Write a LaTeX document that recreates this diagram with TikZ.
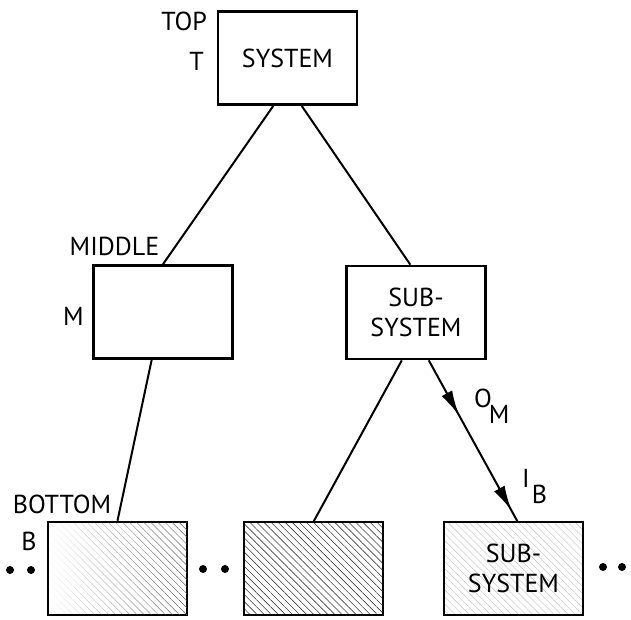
\documentclass[tikz,border=0pt]{standalone}
\usepackage{fontspec}
\setmainfont{PT Sans}
\usetikzlibrary{arrows.meta,calc,decorations.markings,patterns.meta,fadings}
\tikzfading[name=hatchfade,left color=transparent!100,right color=transparent!10]

\begin{document}
\begin{tikzpicture}[x=1pt,y=-1pt,>={Latex[length=25pt,width=12pt]},
  font=\fontsize{26}{30}\selectfont,
  box/.style={draw,line width=2.6pt,minimum width=139pt,minimum height=93pt,inner sep=0pt,align=center},
  conn/.style={line width=2pt},
  lbl/.style={inner sep=0pt},
  flow/.style={postaction={decorate},decoration={markings,
      mark=at position .34 with {\arrow{>}},mark=at position .93 with {\arrow{>}}}}]
  \useasboundingbox (0,0) rectangle (631,619);
  % Kaesten
  \node[box] (sys) at (287.5,58) {SYSTEM};
  \node[box] (mid) at (163,312) {};
  \node[box] (sub) at (416,312.5) {SUB-\\SYSTEM};
  \node[box] (bl) at (117.5,568.5) {};
  \node[box,pattern={Lines[angle=-45,distance=5pt,line width=.6pt]},pattern color=black!75] (bm) at (313.5,568.5) {};
  \node[box,pattern={Lines[angle=-45,distance=5pt,line width=.4pt]},pattern color=black!25] (br) at (513.5,568.5) {SUB-\\SYSTEM};
  \fill[pattern={Lines[angle=-45,distance=5pt,line width=.5pt]},pattern color=black!70,path fading=hatchfade]
    ($(bl.south west)+(1.4,-1.4)$) rectangle ($(bl.north east)+(-1.4,1.4)$);
  % Beschriftung
  \node[lbl,anchor=east] (toplbl) at (207,21) {TOP};
  \node[lbl,anchor=east] (tlbl) at (204,61) {T};
  \node[lbl] (midlbl) at (114.5,246) {MIDDLE};
  \node[lbl] (mlbl) at (73.5,316) {M};
  \node[lbl] (botlbl) at (62,504) {BOTTOM};
  \node[lbl] (blbl) at (29,541) {B};
  \node[lbl,anchor=base west] (outlbl) at (474,407) {O\kern-3pt\raisebox{-16pt}{M}};
  \node[lbl,anchor=base west] (inlbl) at (522,487) {I\kern2pt\raisebox{-16pt}{B}};
  % Verbindungen
  \draw[conn] ($(sys.south west)!.4!(sys.south east)$) -- (mid.north);
  \draw[conn] ($(sys.south west)!.6!(sys.south east)$) -- ($(sub.north west)!.46!(sub.north east)$);
  \draw[conn] ($(mid.south west)!.42!(mid.south east)$) -- (bl.north);
  \draw[conn] ($(sub.south west)!.4!(sub.south east)$) -- (bm.north);
  \draw[conn,flow] ($(sub.south west)!.59!(sub.south east)$) -- ($(br.north west)!.53!(br.north east)$);
  % Punkte
  \foreach \d/\h in {10/570,31/570,203/569,225/569,603/567,622/567}
    \fill (\d,\h) circle (4pt);
\end{tikzpicture}
\end{document}
